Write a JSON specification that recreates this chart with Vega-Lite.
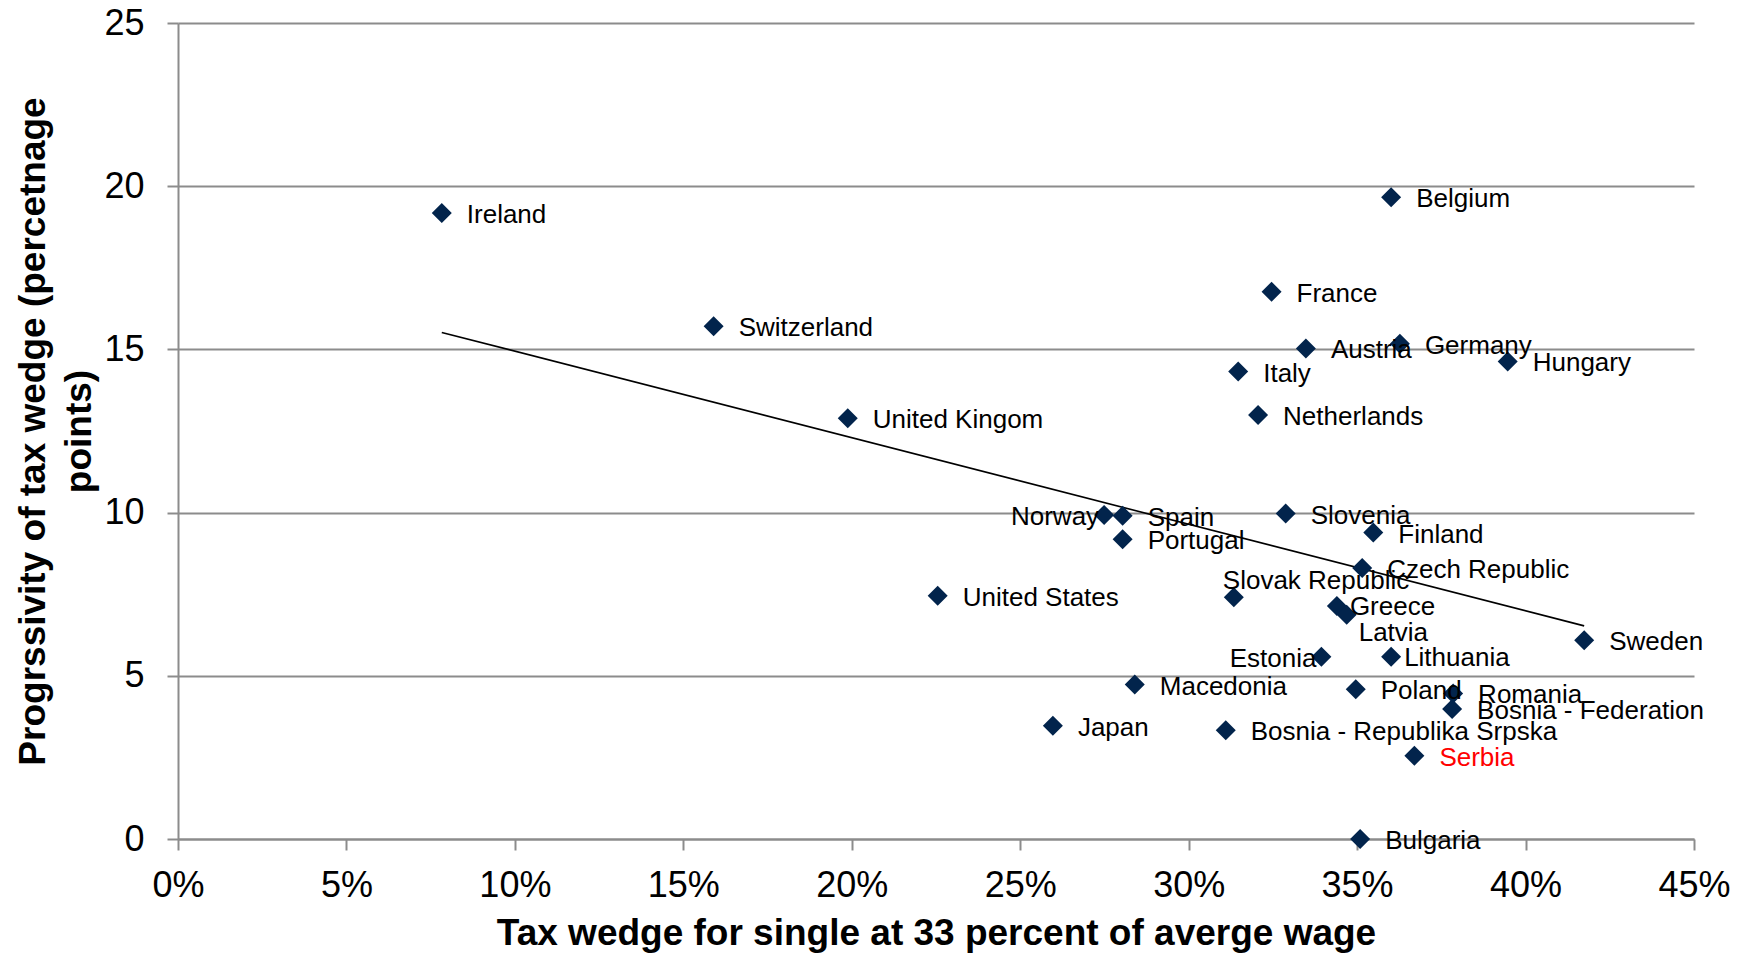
{
  "$schema": "https://vega.github.io/schema/vega-lite/v6.json",
  "width": 1516,
  "height": 816,
  "autosize": {"type": "none"},
  "padding": {"left": 178, "top": 23, "right": 46, "bottom": 115},
  "background": "white",
  "config": {
    "view": {"stroke": null},
    "font": "Liberation Sans",
    "axis": {
      "labelFont": "Liberation Sans",
      "titleFont": "Liberation Sans",
      "labelColor": "black",
      "titleColor": "black",
      "domainColor": "#8c8c8c",
      "tickColor": "#8c8c8c",
      "gridColor": "#8c8c8c",
      "domainWidth": 2,
      "tickWidth": 2,
      "gridWidth": 2,
      "labelFlush": false,
      "labelBound": false,
      "labelOverlap": false
    }
  },
  "datasets": {
    "points": [
      {"country": "Ireland", "wedge": 7.83, "prog": 19.18},
      {"country": "Switzerland", "wedge": 15.9, "prog": 15.71},
      {"country": "United Kingom", "wedge": 19.88, "prog": 12.89},
      {"country": "United States", "wedge": 22.55, "prog": 7.45},
      {"country": "Japan", "wedge": 25.97, "prog": 3.47},
      {"country": "Norway", "wedge": 27.49, "prog": 9.93},
      {"country": "Spain", "wedge": 28.04, "prog": 9.9},
      {"country": "Portugal", "wedge": 28.04, "prog": 9.18},
      {"country": "Macedonia", "wedge": 28.4, "prog": 4.73},
      {"country": "Bosnia - Republika Srpska", "wedge": 31.1, "prog": 3.33},
      {"country": "Slovak Republic", "wedge": 31.34, "prog": 7.41},
      {"country": "Italy", "wedge": 31.47, "prog": 14.32},
      {"country": "Netherlands", "wedge": 32.06, "prog": 12.99},
      {"country": "France", "wedge": 32.46, "prog": 16.77},
      {"country": "Slovenia", "wedge": 32.88, "prog": 9.97},
      {"country": "Austria", "wedge": 33.48, "prog": 15.03},
      {"country": "Estonia", "wedge": 33.94, "prog": 5.58},
      {"country": "Greece", "wedge": 34.4, "prog": 7.14},
      {"country": "Latvia", "wedge": 34.69, "prog": 6.87},
      {"country": "Poland", "wedge": 34.96, "prog": 4.59},
      {"country": "Bulgaria", "wedge": 35.09, "prog": 0.0},
      {"country": "Czech Republic", "wedge": 35.15, "prog": 8.3},
      {"country": "Finland", "wedge": 35.48, "prog": 9.39},
      {"country": "Belgium", "wedge": 36.01, "prog": 19.66},
      {"country": "Lithuania", "wedge": 36.01, "prog": 5.58},
      {"country": "Germany", "wedge": 36.27, "prog": 15.17},
      {"country": "Serbia", "wedge": 36.7, "prog": 2.55},
      {"country": "Romania", "wedge": 37.85, "prog": 4.46},
      {"country": "Bosnia - Federation", "wedge": 37.82, "prog": 3.98},
      {"country": "Hungary", "wedge": 39.47, "prog": 14.63},
      {"country": "Sweden", "wedge": 41.74, "prog": 6.09}
    ],
    "trend": [
      {"wedge": 7.83, "prog": 15.52},
      {"wedge": 41.74, "prog": 6.53}
    ]
  },
  "encoding": {
    "x": {
      "field": "wedge",
      "type": "quantitative",
      "scale": {"domain": [0, 45], "nice": false, "zero": false},
      "axis": {
        "values": [0, 5, 10, 15, 20, 25, 30, 35, 40, 45],
        "labelExpr": "datum.value + '%'",
        "grid": false,
        "tickSize": 11,
        "labelPadding": 18,
        "labelFontSize": 36,
        "title": "Tax wedge for single at 33 percent of averge wage",
        "titleFontSize": 37,
        "titleFontWeight": "bold",
        "titlePadding": 12
      }
    },
    "y": {
      "field": "prog",
      "type": "quantitative",
      "scale": {"domain": [0, 25], "nice": false},
      "axis": {
        "values": [0, 5, 10, 15, 20, 25],
        "grid": true,
        "tickSize": 11,
        "labelPadding": 23,
        "labelFontSize": 36,
        "title": ["Progrssivity of tax wedge (percetnage", "points)"],
        "titleFontSize": 37,
        "titleFontWeight": "bold",
        "titleLineHeight": 46,
        "titlePadding": 5
      }
    }
  },
  "layer": [
    {
      "data": {"name": "trend"},
      "mark": {"type": "line", "color": "black", "strokeWidth": 1.6},
      "encoding": {}
    },
    {
      "data": {"name": "points"},
      "mark": {"type": "point", "shape": "diamond", "filled": true, "size": 400, "color": "#02244c", "opacity": 1}
    },
    {
      "data": {"name": "points"},
      "transform": [{"filter": {"not": {"field": "country", "oneOf": ["Norway", "Estonia", "Slovak Republic", "Latvia", "Lithuania", "Greece", "Serbia"]}}}],
      "mark": {"type": "text", "align": "left", "baseline": "middle", "dx": 25, "dy": 2, "fontSize": 26, "color": "black"},
      "encoding": {"text": {"field": "country"}}
    },
    {
      "data": {"name": "points"},
      "transform": [{"filter": {"field": "country", "oneOf": ["Serbia"]}}],
      "mark": {"type": "text", "align": "left", "baseline": "middle", "dx": 25, "dy": 2, "fontSize": 26, "color": "#ff0000"},
      "encoding": {"text": {"field": "country"}}
    },
    {
      "data": {"name": "points"},
      "transform": [{"filter": {"field": "country", "oneOf": ["Norway", "Estonia"]}}],
      "mark": {"type": "text", "align": "right", "baseline": "middle", "dx": -5, "dy": 2, "fontSize": 26, "color": "black"},
      "encoding": {"text": {"field": "country"}}
    },
    {
      "data": {"name": "points"},
      "transform": [{"filter": {"field": "country", "oneOf": ["Lithuania", "Greece"]}}],
      "mark": {"type": "text", "align": "left", "baseline": "middle", "dx": 13, "dy": 1, "fontSize": 26, "color": "black"},
      "encoding": {"text": {"field": "country"}}
    },
    {
      "data": {"name": "points"},
      "transform": [{"filter": {"field": "country", "oneOf": ["Latvia"]}}],
      "mark": {"type": "text", "align": "left", "baseline": "middle", "dx": 12, "dy": 18, "fontSize": 26, "color": "black"},
      "encoding": {"text": {"field": "country"}}
    },
    {
      "data": {"name": "points"},
      "transform": [{"filter": {"field": "country", "oneOf": ["Slovak Republic"]}}],
      "mark": {"type": "text", "align": "left", "baseline": "middle", "dx": -11, "dy": -16, "fontSize": 26, "color": "black"},
      "encoding": {"text": {"field": "country"}}
    }
  ]
}
